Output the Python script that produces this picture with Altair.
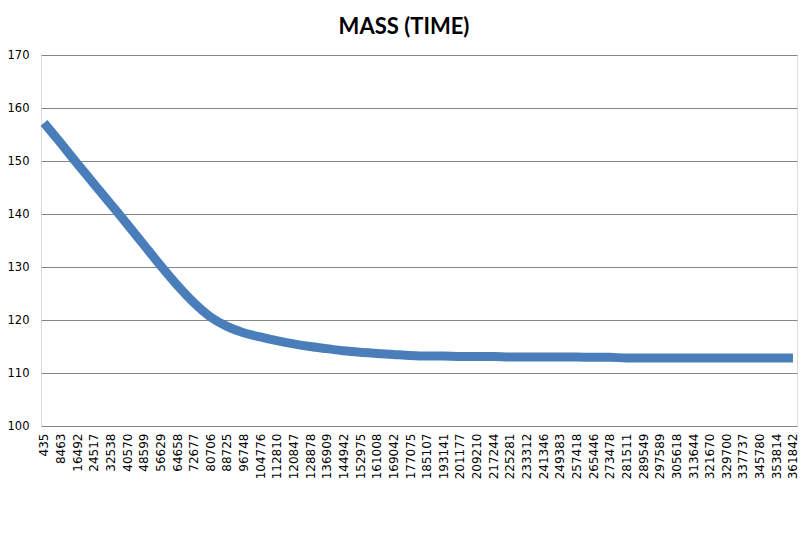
import altair as alt
import pandas as pd

# category labels shown on the x axis (time)
time_labels = [435, 8463, 16492, 24517, 32538, 40570, 48599, 56629, 64658, 72677,
               80706, 88725, 96748, 104776, 112810, 120847, 128878, 136909, 144942, 152975,
               161008, 169042, 177075, 185107, 193141, 201177, 209210, 217244, 225281, 233312,
               241346, 249383, 257418, 265446, 273478, 281511, 289549, 297589, 305618, 313644,
               321670, 329700, 337737, 345780, 353814, 361842]

# mass read at each labelled time
mass_values = [157.2, 153.4, 149.5, 145.7, 141.9, 138.1, 134.2, 130.3, 126.6, 123.3,
               120.6, 118.8, 117.6, 116.8, 116.1, 115.5, 115.0, 114.6, 114.2, 113.9,
               113.7, 113.5, 113.3, 113.2, 113.2, 113.1, 113.1, 113.1, 113.0, 113.0,
               113.0, 113.0, 113.0, 112.95, 112.95, 112.85, 112.85, 112.85, 112.85, 112.85,
               112.85, 112.85, 112.85, 112.85, 112.85, 112.85]

y_ticks = [100, 110, 120, 130, 140, 150, 160, 170]

df = pd.DataFrame({"time": time_labels, "mass": mass_values})

line = alt.Chart(df).mark_line(
    color="#4a7ebb", strokeWidth=9, strokeJoin="round", strokeCap="butt",
    interpolate="monotone"
).encode(
    x=alt.X("time:Q",
            scale=alt.Scale(domain=[-1000, 363800], nice=False, zero=False),
            axis=alt.Axis(values=time_labels, format="d", labelAngle=270,
                          labelOverlap=False, labelBound=False, labelFlush=False,
                          grid=False, ticks=False, domain=False, title=None,
                          labelPadding=7, labelFont="DejaVu Sans", labelFontSize=12,
                          labelColor="#000000")),
    y=alt.Y("mass:Q",
            scale=alt.Scale(domain=[100, 170], nice=False, zero=False),
            axis=alt.Axis(values=y_ticks, grid=True, gridColor="#868686", gridWidth=1,
                          ticks=False, domain=False, title=None, labelPadding=12,
                          labelFont="DejaVu Sans", labelFontSize=11.5,
                          labelColor="#000000")),
)

chart = line.properties(
    width=756, height=371,
    autosize=alt.AutoSizeParams(type="none"),
    padding={"left": 33, "top": 47, "right": 6, "bottom": 100},
    title=alt.TitleParams("MASS (TIME)", font="Lato", fontSize=22,
                          fontWeight="bold", color="#000000", anchor="middle",
                          frame="group", dx=-15, dy=28, offset=16, baseline="bottom"),
).configure_view(stroke=None).configure(background="#ffffff")

chart.save("out.html", embed_options={"renderer": "svg", "actions": False})
